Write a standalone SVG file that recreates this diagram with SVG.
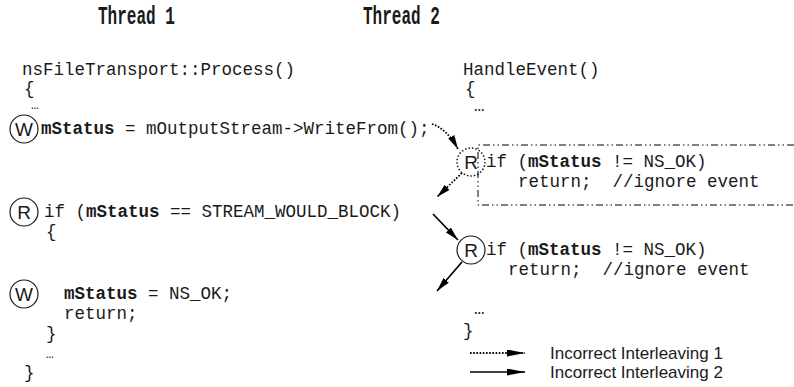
<svg xmlns="http://www.w3.org/2000/svg" width="794" height="387" viewBox="0 0 794 387">
<style>
.code{font-family:"Liberation Mono","Courier New",monospace;font-size:17.5px;fill:#1a1a1a;white-space:pre}
.b{font-weight:bold}
.head{font-family:"Liberation Mono","Courier New",monospace;font-size:25px;font-weight:bold;fill:#1a1a1a}
.lbl{font-family:"Liberation Sans",Arial,sans-serif;font-size:19px;fill:#1a1a1a;text-anchor:middle;dominant-baseline:central}
.leg{font-family:"Liberation Sans",Arial,sans-serif;font-size:17px;fill:#1a1a1a}
.circ{fill:none;stroke:#1a1a1a;stroke-width:1.2}
.dotc{fill:none;stroke:#1a1a1a;stroke-width:1.5;stroke-dasharray:1.5 2}
.sol{fill:none;stroke:#000;stroke-width:1.7}
.dot{fill:none;stroke:#000;stroke-width:1.8;stroke-dasharray:1.6 1.6}
.box{fill:none;stroke:#000;stroke-width:1;stroke-dasharray:7 3 1.5 3 1.5 3}
</style>
<defs>
<marker id="ah" viewBox="0 0 14 7" refX="14" refY="3.5" markerWidth="14" markerHeight="7" markerUnits="userSpaceOnUse" orient="auto">
<path d="M0,0 L14,3.5 L0,7 Z" fill="#000"/>
</marker>
<marker id="ahl" viewBox="0 0 18 7" refX="18" refY="3.5" markerWidth="18" markerHeight="7" markerUnits="userSpaceOnUse" orient="auto">
<path d="M0,0 L18,3.5 L0,7 Z" fill="#000"/>
</marker>
</defs>

<g id="headings">
<text class="head" x="98" y="24" textLength="77" lengthAdjust="spacingAndGlyphs">Thread 1</text>
<text class="head" x="363" y="24" textLength="77" lengthAdjust="spacingAndGlyphs">Thread 2</text>
</g>

<g id="thread1">
<text class="code" x="22" y="75">nsFileTransport::Process()</text>
<text class="code" x="24" y="94">{</text>
<text class="code" x="31" y="109" style="font-size:13px">…</text>
<g id="w1">
<circle class="circ" cx="24" cy="129" r="14"/>
<text class="lbl" x="24" y="129">W</text>
</g>
<text class="code" x="41" y="134"><tspan class="b">mStatus</tspan> = mOutputStream-&gt;WriteFrom();</text>
<g id="r1">
<circle class="circ" cx="24" cy="212" r="14"/>
<text class="lbl" x="24" y="212">R</text>
</g>
<text class="code" x="44" y="217">if (<tspan class="b">mStatus</tspan> == STREAM_WOULD_BLOCK)</text>
<text class="code" x="46" y="237">{</text>
<g id="w2">
<circle class="circ" cx="24" cy="294" r="14"/>
<text class="lbl" x="24" y="294">W</text>
</g>
<text class="code" x="64" y="299"><tspan class="b">mStatus</tspan> = NS_OK;</text>
<text class="code" x="64" y="319">return;</text>
<text class="code" x="46" y="339">}</text>
<text class="code" x="46" y="358" style="font-size:13px">…</text>
<text class="code" x="24" y="378">}</text>
</g>

<g id="thread2">
<text class="code" x="463" y="75">HandleEvent()</text>
<text class="code" x="465" y="94">{</text>
<text class="code" x="474" y="111">…</text>
<g id="r2">
<circle class="dotc" cx="471" cy="162" r="14"/>
<text class="lbl" x="471" y="162">R</text>
</g>
<path id="box" class="box" d="M794,145 H478 V205 H794"/>
<text class="code" x="486" y="167">if (<tspan class="b">mStatus</tspan> != NS_OK)</text>
<text class="code" x="518" y="187" xml:space="preserve">return;  //ignore event</text>
<g id="r3">
<circle class="circ" cx="471" cy="250" r="14"/>
<text class="lbl" x="471" y="250">R</text>
</g>
<text class="code" x="486" y="255">if (<tspan class="b">mStatus</tspan> != NS_OK)</text>
<text class="code" x="508" y="275" xml:space="preserve">return;  //ignore event</text>
<text class="code" x="474" y="314">…</text>
<text class="code" x="463" y="336">}</text>
</g>

<g id="connectors">
<path class="dot" d="M432,124 Q447,129 458,149" marker-end="url(#ah)"/>
<path class="dot" d="M462,173 L437,197" marker-end="url(#ah)"/>
<path class="sol" d="M433,214 L458,240" marker-end="url(#ah)"/>
<path class="sol" d="M462,262 L437,291" marker-end="url(#ah)"/>
</g>

<g id="legend">
<path class="dot" d="M470,353 L525,353" marker-end="url(#ahl)"/>
<path class="sol" d="M470,372 L525,372" marker-end="url(#ahl)"/>
<text class="leg" x="550" y="359">Incorrect Interleaving 1</text>
<text class="leg" x="550" y="378">Incorrect Interleaving 2</text>
</g>
</svg>
